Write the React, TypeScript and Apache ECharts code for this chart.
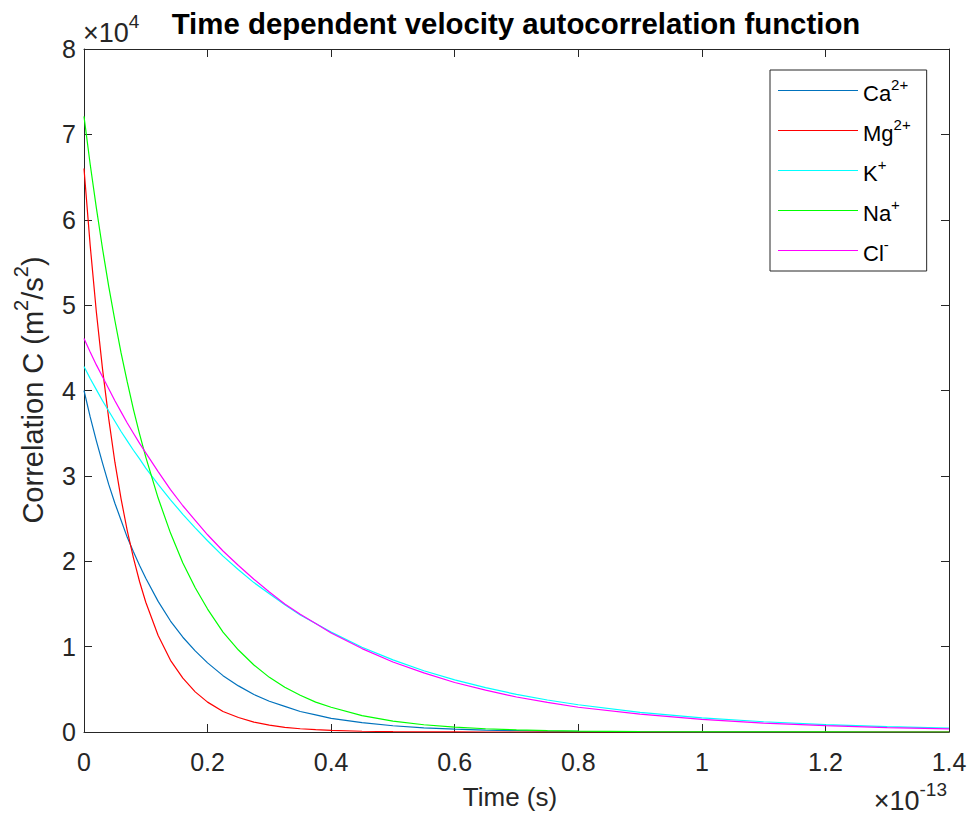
import React, { useEffect, useRef } from 'react';
import * as echarts from 'echarts';

// Time axis values (units of 1e-13 s)
const times = [0, 0.01, 0.02, 0.03, 0.04, 0.05, 0.06, 0.07, 0.08, 0.09, 0.1, 0.12, 0.14, 0.16, 0.18, 0.2, 0.225, 0.25, 0.275, 0.3, 0.325, 0.35, 0.375, 0.4, 0.45, 0.5, 0.55, 0.6, 0.65, 0.7, 0.75, 0.8, 0.9, 1.0, 1.1, 1.2, 1.3, 1.4];
// Correlation values (units of 1e4 m^2/s^2)
const caValues = [4.00, 3.69, 3.41, 3.15, 2.90, 2.68, 2.48, 2.28, 2.11, 1.95, 1.80, 1.53, 1.30, 1.11, 0.95, 0.81, 0.66, 0.54, 0.44, 0.36, 0.30, 0.24, 0.20, 0.16, 0.109, 0.073, 0.049, 0.033, 0.022, 0.015, 0.010, 0.007, 0.003, 0.001, 0.0005, 0.0002, 0.0001, 0];
const mgValues = [6.60, 5.70, 4.92, 4.25, 3.67, 3.16, 2.73, 2.36, 2.04, 1.76, 1.52, 1.13, 0.84, 0.63, 0.47, 0.35, 0.24, 0.17, 0.116, 0.080, 0.055, 0.038, 0.027, 0.018, 0.009, 0.004, 0.002, 0.001, 0, 0, 0, 0, 0, 0, 0, 0, 0, 0];
const kValues = [4.28, 4.14, 4.01, 3.88, 3.76, 3.64, 3.52, 3.41, 3.30, 3.20, 3.09, 2.90, 2.72, 2.55, 2.39, 2.24, 2.06, 1.90, 1.75, 1.62, 1.49, 1.37, 1.27, 1.17, 0.993, 0.845, 0.717, 0.61, 0.519, 0.441, 0.375, 0.319, 0.230, 0.166, 0.120, 0.087, 0.063, 0.045];
const naValues = [7.21, 6.65, 6.14, 5.66, 5.22, 4.82, 4.44, 4.10, 3.78, 3.49, 3.22, 2.74, 2.33, 1.98, 1.69, 1.44, 1.17, 0.96, 0.785, 0.64, 0.524, 0.43, 0.350, 0.29, 0.191, 0.128, 0.085, 0.057, 0.038, 0.026, 0.017, 0.011, 0.005, 0.002, 0.001, 0.0005, 0.0002, 0.0001];
const clValues = [4.61, 4.45, 4.30, 4.16, 4.02, 3.88, 3.75, 3.62, 3.50, 3.38, 3.27, 3.05, 2.84, 2.65, 2.48, 2.31, 2.12, 1.95, 1.79, 1.64, 1.50, 1.38, 1.27, 1.16, 0.977, 0.82, 0.692, 0.58, 0.490, 0.41, 0.347, 0.29, 0.21, 0.147, 0.104, 0.074, 0.052, 0.037];

const ionBases = ['Ca', 'Mg', 'K', 'Na', 'Cl'];
const ionCharges = ['2+', '2+', '+', '+', '-'];
const ionColors = ['#0072BD', '#FF0000', '#00FFFF', '#00FF00', '#FF00FF'];
const ionValues = [caValues, mgValues, kValues, naValues, clValues];

const titleText = 'Time dependent velocity autocorrelation function';
const xName = 'Time (s)';

const FONT = '"Liberation Sans", Arial, Helvetica, sans-serif';
const AX = '#262626';

function supRich(size: number, color: string) {
  return {
    n: { fontSize: size, fontFamily: FONT, color, fill: color, lineHeight: size, verticalAlign: 'bottom' },
    s: { fontSize: Math.round(size * 0.7), fontFamily: FONT, color, fill: color, verticalAlign: 'top', padding: [0, 0, Math.round(size * 0.55), 0] },
  };
}

export default function App() {
  const ref = useRef<HTMLDivElement>(null);
  useEffect(() => {
    const chart = echarts.init(ref.current!, null, { renderer: 'svg' });
    const names = ionBases.map((b, i) => b + ionCharges[i]);
    const axisCommon = {
      axisLine: { show: true, onZero: false, lineStyle: { color: AX, width: 1 } },
      axisTick: { show: true, inside: true, length: 8, lineStyle: { color: AX, width: 1 } },
      splitLine: { show: false },
    };
    const option: any = {
      animation: false,
      backgroundColor: '#ffffff',
      grid: { left: 84, right: 21, top: 49, bottom: 82, containLabel: false },
      xAxis: [
        {
          type: 'value', min: 0, max: 1.4, interval: 0.2, position: 'bottom', ...axisCommon,
          axisLabel: { margin: 17, fontSize: 25, color: AX, fontFamily: FONT, formatter: (v: number) => String(Math.round(v * 10) / 10) },
        },
        {
          type: 'value', min: 0, max: 1.4, interval: 0.2, position: 'top', ...axisCommon,
          axisLabel: { show: false },
        },
      ],
      yAxis: [
        {
          type: 'value', min: 0, max: 8, interval: 1, position: 'left', ...axisCommon,
          axisLabel: { margin: 8, fontSize: 25, color: AX, fontFamily: FONT },
        },
        {
          type: 'value', min: 0, max: 8, interval: 1, position: 'right', ...axisCommon,
          axisLabel: { show: false },
        },
      ],
      legend: {
        orient: 'vertical', left: 770, top: 70,
        padding: [7, 16, 7, 8],
        itemWidth: 80, itemHeight: 1, itemGap: 13,
        icon: 'rect',
        backgroundColor: '#ffffff', borderColor: AX, borderWidth: 1, borderRadius: 0,
        selectedMode: false,
        data: names,
        formatter: (name: string) => {
          const i = names.indexOf(name);
          return `{n|${ionBases[i]}}{s|${ionCharges[i]}}`;
        },
        textStyle: { fontSize: 22, fontFamily: FONT, color: '#000', rich: supRich(22, '#000') },
      },
      graphic: [
        {
          type: 'text', x: 516, y: 23, z: 10,
          style: { text: titleText, align: 'center', verticalAlign: 'middle', fontSize: 29.4, fontWeight: 'bold', fontFamily: FONT, fill: '#000' },
        },
        {
          type: 'text', x: 510, y: 797, z: 10,
          style: { text: xName, align: 'center', verticalAlign: 'middle', fontSize: 26, fontFamily: FONT, fill: AX },
        },
        {
          type: 'text', x: 29, y: 390, rotation: Math.PI / 2, z: 10,
          style: {
            text: '{n|Correlation C (m}{s|2}{n|/s}{s|2}{n|)}',
            align: 'center', verticalAlign: 'middle',
            rich: supRich(29, AX),
          },
        },
        {
          type: 'text', x: 83, y: 29, z: 10,
          style: { text: '{n|×10}{s|4}', align: 'left', verticalAlign: 'middle', rich: supRich(27, AX) },
        },
        {
          type: 'text', x: 947, y: 797, z: 10,
          style: { text: '{n|×10}{s|-13}', align: 'right', verticalAlign: 'middle', rich: supRich(27, AX) },
        },
      ],
      series: ionBases.map((b, i) => ({
        name: names[i],
        type: 'line',
        xAxisIndex: 0,
        yAxisIndex: 0,
        data: times.map((t, j) => [t, ionValues[i][j]]),
        showSymbol: false,
        symbol: 'none',
        smooth: false,
        itemStyle: { color: ionColors[i] },
        lineStyle: { color: ionColors[i], width: 1.2 },
        z: 2 + i,
      })),
    };
    chart.setOption(option);
    return () => chart.dispose();
  }, []);
  return <div ref={ref} style={{ position: 'absolute', left: 0, top: 0, width: 970, height: 814 }} />;
}
